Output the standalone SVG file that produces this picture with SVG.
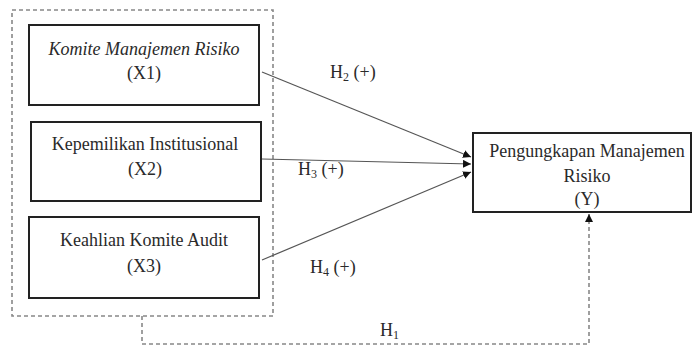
<svg xmlns="http://www.w3.org/2000/svg" width="692" height="348" viewBox="0 0 692 348">
<defs>
<style>
.box{fill:#fff;stroke:#222;stroke-width:2}
.dash{fill:none;stroke:#888;stroke-width:1.6;stroke-dasharray:4,3}
.t{font-family:"Liberation Serif","Times New Roman",serif;font-size:18px;fill:#2a2a2a;text-anchor:middle}
.lbl{font-family:"Liberation Serif","Times New Roman",serif;font-size:18px;fill:#2a2a2a}
.sub{font-size:12px}
.conn{stroke:#555;stroke-width:1.2;fill:none}
</style>
<marker id="ah" viewBox="0 0 10 10" refX="10" refY="5" markerWidth="8" markerHeight="8" markerUnits="userSpaceOnUse" orient="auto">
<path d="M0,0 L10,5 L0,10 z" fill="#111"/>
</marker>
</defs>
<rect width="692" height="348" fill="#fff"/>
<g id="group-x">
<rect class="dash" x="12" y="10" width="261" height="306"/>
</g>
<g id="x1">
<rect class="box" x="29" y="25" width="230" height="80"/>
<text class="t" x="144" y="55" font-style="italic">Komite Manajemen Risiko</text>
<text class="t" x="144" y="79">(X1)</text>
</g>
<g id="x2">
<rect class="box" x="31" y="122" width="230" height="79"/>
<text class="t" x="145" y="150">Kepemilikan Institusional</text>
<text class="t" x="145" y="175">(X2)</text>
</g>
<g id="x3">
<rect class="box" x="29" y="217" width="230" height="81"/>
<text class="t" x="144" y="246">Keahlian Komite Audit</text>
<text class="t" x="144" y="272">(X3)</text>
</g>
<g id="y">
<rect class="box" x="473" y="133" width="218" height="79"/>
<text class="t" x="587" y="157">Pengungkapan Manajemen</text>
<text class="t" x="587" y="182">Risiko</text>
<text class="t" x="587" y="205">(Y)</text>
</g>
<g id="connectors">
<line class="conn" x1="262" y1="72" x2="471" y2="157" marker-end="url(#ah)"/>
<line class="conn" x1="262" y1="159" x2="471" y2="164" marker-end="url(#ah)"/>
<line class="conn" x1="262" y1="260" x2="471" y2="172" marker-end="url(#ah)"/>
<path class="dash" d="M142,316 V344 H589 V214" marker-end="url(#ah)"/>
<text class="lbl" x="330" y="78">H<tspan class="sub" dy="3">2</tspan><tspan dy="-3"> (+)</tspan></text>
<text class="lbl" x="298" y="175">H<tspan class="sub" dy="3">3</tspan><tspan dy="-3"> (+)</tspan></text>
<text class="lbl" x="310" y="273">H<tspan class="sub" dy="3">4</tspan><tspan dy="-3"> (+)</tspan></text>
<text class="lbl" x="380" y="336">H<tspan class="sub" dy="3">1</tspan></text>
</g>
</svg>
